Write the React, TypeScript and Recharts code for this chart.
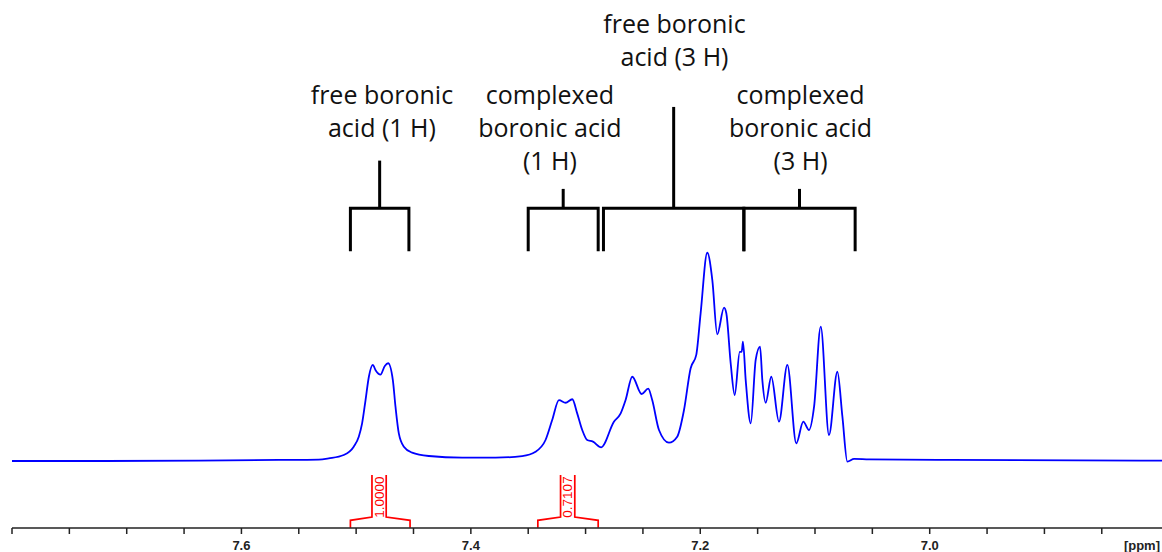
import { LineChart, Line, XAxis, YAxis, ReferenceDot, Label } from 'recharts';

// spectrum (ppm descending, intensity: tallest peak = 100)
const shiftPpm = [
    7.8, 7.72, 7.637, 7.5675, 7.5326, 7.5239, 7.5108, 7.5021, 7.4977, 7.4948, 7.4918, 7.4889,
    7.4855, 7.4829, 7.4788, 7.475, 7.4721, 7.468, 7.4657, 7.4628, 7.4584, 7.4512, 7.4366,
    7.4076, 7.3785, 7.3553, 7.3436, 7.3349, 7.3291, 7.3232, 7.3174, 7.3116, 7.3073, 7.3029,
    7.2986, 7.2936, 7.2864, 7.2753, 7.2694, 7.2651, 7.2593, 7.2511, 7.2454, 7.2419, 7.236,
    7.2273, 7.2201, 7.2142, 7.2084, 7.2035, 7.1997, 7.1939, 7.1895, 7.1852, 7.1793, 7.1773,
    7.1735, 7.17, 7.1656, 7.1639, 7.1628, 7.1604, 7.156, 7.1517, 7.1479, 7.1459, 7.143,
    7.1381, 7.1314, 7.1241, 7.1163, 7.1102, 7.1052, 7.1008, 7.095, 7.0878, 7.0805, 7.0761,
    7.0718, 7.0659, 7.0529, 6.983, 6.7975,
];
const intensity = [
    0, 0, 0.2, 0.5, 0.7, 1.3, 2.9, 6.9, 11.7, 18.1, 29.3, 40.5,
    46.2, 43.5, 41.5, 45.7, 47.0, 38.9, 26.1, 13.3, 6.9, 4.0, 2.4,
    1.6, 1.6, 2.4, 4.5, 10.1, 19.7, 29.3, 28.0, 29.7, 22.9, 14.9,
    10.1, 9.3, 6.6, 18.9, 22.9, 29.3, 40.5, 32.2, 34.8, 29.3, 14.9,
    8.8, 11.7, 24.5, 44.6, 51.0, 71.0, 100.1, 87.0, 60.9, 73.7, 71.0,
    47.0, 31.7, 52.5, 52.5, 57.4, 38.9, 18.1, 48.6, 55.0, 38.9, 28.0,
    40.5, 18.9, 46.2, 8.5, 18.9, 14.9, 26.1, 64.6, 12.5, 42.9, 21.3,
    -0.3, 1.0, 0.8, 0.5, 0.2,
];

const axisTicks = [
    7.8, 7.75, 7.7, 7.65, 7.6, 7.55, 7.5, 7.45, 7.4, 7.35, 7.3, 7.25, 7.2, 7.15, 7.1, 7.05,
    7.0, 6.95, 6.9, 6.85,
];
const labelledTicks = [7.6, 7.4, 7.2, 7.0];

// assignment brackets: [from, to] in ppm
const bracketRanges = [
    [7.505, 7.454],
    [7.35, 7.289],
    [7.2844, 7.162],
    [7.162, 7.065],
];
const stemTops = [144.4, 130.8, 170.2, 130.8];
const bracketLabels = [
    ['free boronic', 'acid (1 H)'],
    ['complexed', 'boronic acid', '(1 H)'],
    ['free boronic', 'acid (3 H)'],
    ['complexed', 'boronic acid', '(3 H)'],
];
const labelShifts = [7.4775, 7.3311, 7.2225, 7.1126];
const labelTops = [171.6, 171.6, 205.8, 171.6];

// integrals
const integralRanges = [
    [7.505, 7.453],
    [7.3416, 7.289],
];
const integralCenters = [7.48, 7.3156];
const integralValues = ['1.0000', '0.7107'];

const BAR_Y = 121.5;
const LEG_Y = 100.8;
const INT_FOOT = -32.1;
const INT_SHOULDER = -28.5;
const INT_INNER = -26.9;
const INT_TOP = -6.7;
const INT_GAP = 0.0062;

const spectrum = shiftPpm.map((x, i) => ({ x, y: intensity[i] }));

const textFont = '"Open Sans", "Noto Sans", sans-serif';
const axisFont = "'Liberation Sans', Arial, sans-serif";

function multiLine(lines: string[]) {
    return (props: any) => (
        <text x={props.cx} y={props.cy} textAnchor="middle" fontFamily={textFont} fontSize={25} fill="#111">
            {lines.map((l, i) => (
                <tspan key={i} x={props.cx} dy={i === 0 ? 0 : 33}>
                    {l}
                </tspan>
            ))}
        </text>
    );
}

function rotatedValue(value: string) {
    return (props: any) => (
        <text
            x={props.cx}
            y={props.cy}
            transform={`rotate(-90 ${props.cx} ${props.cy})`}
            textAnchor="middle"
            dominantBaseline="central"
            fontFamily={axisFont}
            fontSize={13.5}
            fill="#ff0000"
        >
            {value}
        </text>
    );
}

export default function App() {
    return (
        <div>
            <style>{'body{margin:0}'}</style>
            <LineChart width={1162} height={552} margin={{ top: 0, right: 0, bottom: 0, left: 12 }}>
                <XAxis
                    dataKey="x"
                    type="number"
                    domain={[6.7975, 7.8]}
                    reversed
                    allowDataOverflow
                    ticks={axisTicks}
                    interval={0}
                    height={24}
                    tickSize={6}
                    tickMargin={7}
                    stroke="#222"
                    strokeWidth={1.5}
                    tickFormatter={(v: number) => (labelledTicks.some((t) => Math.abs(t - v) < 1e-6) ? v.toFixed(1) : '')}
                    tick={{ fontSize: 13, fontWeight: 'bold', fill: '#222', fontFamily: axisFont }}
                >
                    <Label
                        value="[ppm]"
                        position="insideBottomRight"
                        offset={2}
                        style={{ fontSize: 13, fontWeight: 'bold', fill: '#222', fontFamily: axisFont }}
                    />
                </XAxis>
                <YAxis hide type="number" domain={[-32.2, 221.6]} allowDataOverflow />

                <Line
                    data={spectrum}
                    dataKey="y"
                    type="monotone"
                    stroke="#0000ff"
                    strokeWidth={1.8}
                    dot={false}
                    activeDot={false}
                    isAnimationActive={false}
                />

                {bracketRanges.map(([a, b], i) => (
                    <Line
                        key={`br-${i}`}
                        data={[
                            { x: a, y: LEG_Y },
                            { x: a, y: BAR_Y },
                            { x: b, y: BAR_Y },
                            { x: b, y: LEG_Y },
                        ]}
                        dataKey="y"
                        type="linear"
                        stroke="#000"
                        strokeWidth={3}
                        dot={false}
                        activeDot={false}
                        isAnimationActive={false}
                    />
                ))}
                {bracketRanges.map(([a, b], i) => (
                    <Line
                        key={`stem-${i}`}
                        data={[
                            { x: (a + b) / 2, y: BAR_Y },
                            { x: (a + b) / 2, y: stemTops[i] },
                        ]}
                        dataKey="y"
                        type="linear"
                        stroke="#000"
                        strokeWidth={3}
                        dot={false}
                        activeDot={false}
                        isAnimationActive={false}
                    />
                ))}
                {bracketLabels.map((lines, i) => (
                    <ReferenceDot key={`lb-${i}`} x={labelShifts[i]} y={labelTops[i]} shape={multiLine(lines)} />
                ))}

                {integralRanges.map(([a], i) => (
                    <Line
                        key={`intl-${i}`}
                        data={[
                            { x: a, y: INT_FOOT },
                            { x: a, y: INT_SHOULDER },
                            { x: integralCenters[i] + INT_GAP, y: INT_INNER },
                            { x: integralCenters[i] + INT_GAP, y: INT_TOP },
                        ]}
                        dataKey="y"
                        type="linear"
                        stroke="#ff0000"
                        strokeWidth={1.7}
                        dot={false}
                        activeDot={false}
                        isAnimationActive={false}
                    />
                ))}
                {integralRanges.map(([, b], i) => (
                    <Line
                        key={`intr-${i}`}
                        data={[
                            { x: integralCenters[i] - INT_GAP, y: INT_TOP },
                            { x: integralCenters[i] - INT_GAP, y: INT_INNER },
                            { x: b, y: INT_SHOULDER },
                            { x: b, y: INT_FOOT },
                        ]}
                        dataKey="y"
                        type="linear"
                        stroke="#ff0000"
                        strokeWidth={1.7}
                        dot={false}
                        activeDot={false}
                        isAnimationActive={false}
                    />
                ))}
                {integralValues.map((v, i) => (
                    <ReferenceDot key={`iv-${i}`} x={integralCenters[i]} y={-17.3} shape={rotatedValue(v)} />
                ))}
            </LineChart>
        </div>
    );
}
